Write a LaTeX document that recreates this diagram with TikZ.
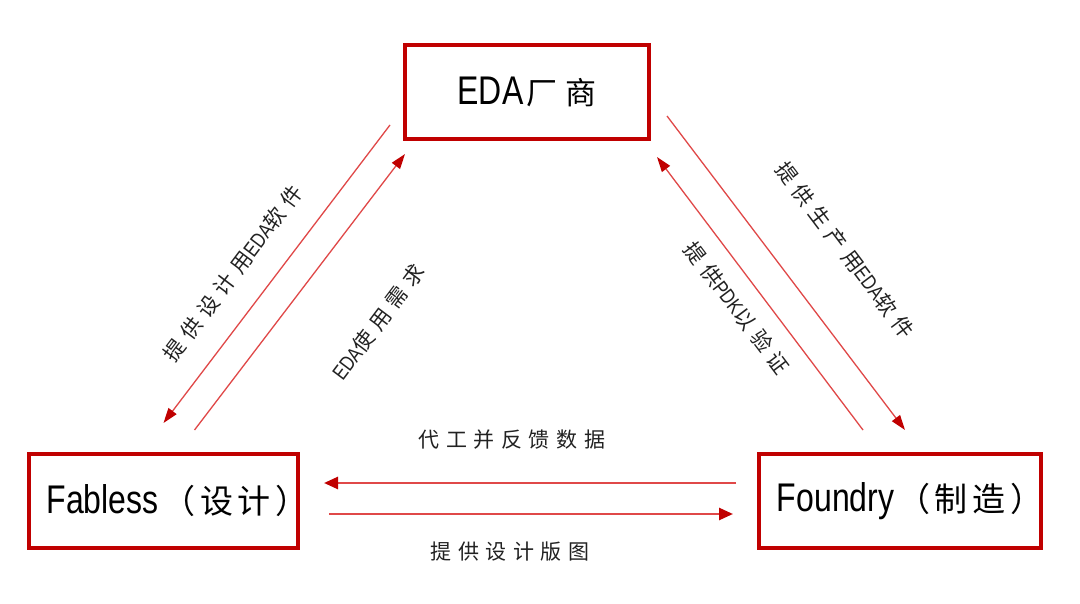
\documentclass[tikz,border=0pt]{standalone}
\usepackage{fontspec}
\usepackage{graphicx}
\setmainfont{Liberation Sans}
\newfontfamily\cjk[LetterSpace=31]{Noto Sans CJK SC}
\newfontfamily\cjkb[LetterSpace=14]{Noto Sans CJK SC}
\usetikzlibrary{arrows.meta,calc}
\definecolor{boxred}{HTML}{C00000}
\definecolor{linered}{HTML}{E04848}
\definecolor{txt}{HTML}{222222}
\newcommand{\nar}[1]{\scalebox{0.8}[1]{\rmfamily #1}}
\begin{document}
\begin{tikzpicture}[x=1pt,y=-1pt,
 box/.style={draw=boxred,line width=4pt,inner sep=0pt,minimum height=94pt,text=black,font=\fontsize{40}{44}\selectfont},
 lab/.style={text=txt,inner sep=0pt,font=\fontsize{21}{24}\selectfont},
 dline/.style={draw=linered,line width=1.3pt,-{Triangle[length=15pt,width=10pt,color=boxred,fill=boxred]}},
 hline/.style={draw=linered,line width=2.6pt,-{Triangle[length=14pt,width=12pt,color=boxred,fill=boxred]}}]
\useasboundingbox[fill=white] (0,0) rectangle (1080,604);

\node[box,minimum width=244pt] (eda) at (527,92) {\nar{EDA}\hspace{3pt}{\cjkb\fontsize{31}{34}\selectfont 厂\hspace{8pt}商}};
\node[box,minimum width=269pt] (fab) at (163.5,501) {\makebox[200pt]{\hspace{28pt}\nar{Fabless}\hspace{4pt}{\cjkb\fontsize{33}{36}\selectfont （设计）}}};
\node[box,minimum width=282pt] (fdy) at (900,501) {\makebox[200pt]{\hspace{20pt}\nar{Foundry}\hspace{3pt}{\cjkb\fontsize{33}{36}\selectfont （制造）}}};

\coordinate (a1s) at ([shift={(-13,-16)}]eda.south west);
\coordinate (a1e) at ([shift={(0,-29)}]fab.north);
\coordinate (a2s) at ([shift={(31,-22)}]fab.north);
\coordinate (a2e) at ([shift={(2,13)}]eda.south west);
\coordinate (a3s) at ([shift={(16,-25)}]eda.south east);
\coordinate (a3e) at ([shift={(5,-22)}]fdy.north);
\coordinate (a4s) at ([shift={(-37,-22)}]fdy.north);
\coordinate (a4e) at ([shift={(6,16)}]eda.south east);
\coordinate (h1s) at ([shift={(-21,-18)}]fdy.west);
\coordinate (h1e) at ([shift={(24,-18)}]fab.east);
\coordinate (h2s) at ([shift={(29,13)}]fab.east);
\coordinate (h2e) at ([shift={(-24,13)}]fdy.west);

\draw[dline] (a1s) -- (a1e);
\draw[dline] (a2s) -- (a2e);
\draw[dline] (a3s) -- (a3e);
\draw[dline] (a4s) -- (a4e);
\draw[hline] (h1s) -- (h1e);
\draw[hline] (h2s) -- (h2e);

\node[lab,rotate=53] (l1) at (233,273) {\cjk 提供设计用\nar{EDA}软件};
\node[lab,rotate=53] (l2) at (378,322) {\nar{EDA}\cjk 使用需求};
\node[lab,rotate=-53] (l3) at (845,250) {\cjk 提供生产用\nar{EDA}软件};
\node[lab,rotate=-53] (l4) at (737,308) {\cjk 提供\nar{PDK}以验证};
\node[lab] (l5) at (512,440) {\cjk 代工并反馈数据};
\node[lab] (l6) at (510,552) {\cjk 提供设计版图};
\end{tikzpicture}
\end{document}
